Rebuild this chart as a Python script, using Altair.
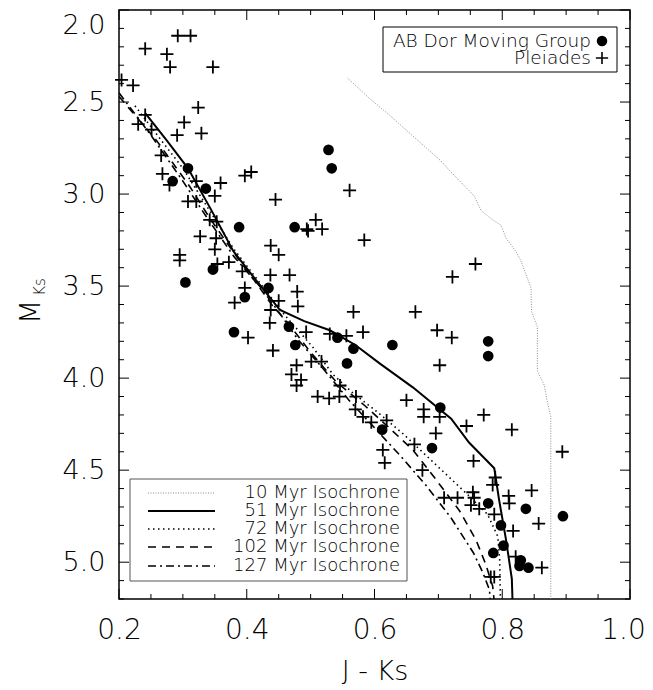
import altair as alt
import pandas as pd

# ---------------- data ----------------
abdor_x = [0.308, 0.284, 0.336, 0.528, 0.533, 0.388, 0.475, 0.304, 0.347, 0.434, 0.397, 0.380,
           0.466, 0.542, 0.567, 0.557, 0.476, 0.628, 0.778, 0.778, 0.703, 0.612, 0.690, 0.778,
           0.837, 0.895, 0.798, 0.802, 0.786, 0.829, 0.827, 0.841]
abdor_y = [2.86, 2.93, 2.97, 2.76, 2.86, 3.18, 3.18, 3.48, 3.41, 3.51, 3.56, 3.75,
           3.72, 3.78, 3.84, 3.92, 3.82, 3.82, 3.80, 3.88, 4.16, 4.28, 4.38, 4.68,
           4.71, 4.75, 4.80, 4.91, 4.95, 4.99, 5.02, 5.03]

plei_x = [0.292, 0.312, 0.241, 0.275, 0.280, 0.347, 0.204, 0.222, 0.324, 0.241, 0.302, 0.230,
          0.251, 0.291, 0.329, 0.266, 0.268, 0.279, 0.321, 0.359, 0.350, 0.308, 0.321, 0.397,
          0.407, 0.561, 0.445, 0.342, 0.353, 0.494, 0.508, 0.518, 0.327, 0.352, 0.350, 0.295,
          0.295, 0.354, 0.372, 0.393, 0.496, 0.584, 0.4375, 0.450, 0.437, 0.467, 0.397, 0.381,
          0.479, 0.480, 0.450, 0.4375, 0.436, 0.402, 0.493, 0.530, 0.556, 0.582, 0.567, 0.441,
          0.478, 0.501, 0.517, 0.470, 0.485, 0.478, 0.511, 0.529, 0.545, 0.546, 0.571, 0.570,
          0.582, 0.758, 0.722, 0.664, 0.698, 0.721, 0.702, 0.650, 0.677, 0.677, 0.702, 0.771,
          0.744, 0.815, 0.696, 0.619, 0.595, 0.6625, 0.613, 0.616, 0.894, 0.755, 0.675, 0.789,
          0.785, 0.846, 0.709, 0.730, 0.754, 0.756, 0.751, 0.764, 0.810, 0.811, 0.7875, 0.857,
          0.817, 0.821, 0.862, 0.782, 0.7875]
plei_y = [2.14, 2.14, 2.21, 2.24, 2.31, 2.31, 2.38, 2.41, 2.53, 2.57, 2.61, 2.62,
          2.65, 2.68, 2.67, 2.79, 2.89, 2.95, 2.93, 2.94, 3.01, 3.04, 3.04, 2.90,
          2.88, 2.98, 3.03, 3.14, 3.15, 3.19, 3.14, 3.19, 3.23, 3.24, 3.30, 3.33,
          3.36, 3.38, 3.37, 3.42, 3.20, 3.25, 3.28, 3.33, 3.44, 3.44, 3.51, 3.59,
          3.53, 3.61, 3.58, 3.63, 3.70, 3.78, 3.75, 3.76, 3.77, 3.75, 3.64, 3.85,
          3.93, 3.91, 3.91, 3.98, 4.01, 4.04, 4.10, 4.11, 4.10, 4.04, 4.10, 4.17,
          4.21, 3.38, 3.45, 3.64, 3.74, 3.78, 3.93, 4.12, 4.17, 4.21, 4.21, 4.20,
          4.26, 4.28, 4.30, 4.23, 4.24, 4.36, 4.39, 4.46, 4.40, 4.45, 4.50, 4.54,
          4.58, 4.61, 4.65, 4.65, 4.62, 4.65, 4.69, 4.71, 4.64, 4.68, 4.74, 4.79,
          4.83, 4.97, 5.03, 5.08, 5.08]

iso10_x = [0.558, 0.592, 0.623, 0.665, 0.704, 0.717, 0.756, 0.767, 0.785, 0.798, 0.806, 0.821,
           0.829, 0.845, 0.846, 0.855, 0.855, 0.866, 0.870, 0.876, 0.876]
iso10_y = [2.37, 2.48, 2.57, 2.70, 2.82, 2.87, 3.01, 3.09, 3.14, 3.17, 3.24, 3.31,
           3.36, 3.51, 3.64, 3.72, 3.96, 4.04, 4.12, 4.21, 5.20]

iso51_x = [0.241, 0.275, 0.308, 0.345, 0.379, 0.415, 0.452, 0.49, 0.53, 0.57, 0.608, 0.66,
           0.72, 0.748, 0.7875, 0.795, 0.806, 0.815, 0.816]
iso51_y = [2.56, 2.71, 2.86, 3.09, 3.31, 3.47, 3.63, 3.69, 3.74, 3.82, 3.92, 4.05,
           4.22, 4.35, 4.49, 4.66, 4.88, 5.09, 5.20]

iso72_x = [0.225, 0.26, 0.30, 0.34, 0.38, 0.42, 0.46, 0.503, 0.535, 0.566, 0.603, 0.644,
           0.696, 0.748, 0.777, 0.793, 0.796, 0.797]
iso72_y = [2.52, 2.68, 2.86, 3.08, 3.30, 3.48, 3.66, 3.83, 3.98, 4.08, 4.18, 4.30,
           4.47, 4.64, 4.74, 4.86, 4.99, 5.20]

iso102_x = [0.20, 0.259, 0.311, 0.342, 0.38, 0.41, 0.441, 0.462, 0.50, 0.54, 0.585, 0.623,
            0.66, 0.696, 0.733, 0.759, 0.774, 0.785, 0.787]
iso102_y = [2.47, 2.71, 2.96, 3.13, 3.32, 3.46, 3.61, 3.69, 3.86, 4.02, 4.15, 4.27,
            4.39, 4.55, 4.72, 4.88, 5.01, 5.13, 5.20]

iso127_x = [0.20, 0.25, 0.30, 0.34, 0.38, 0.42, 0.45, 0.48, 0.52, 0.56, 0.60, 0.64,
            0.68, 0.72, 0.755, 0.77, 0.78, 0.781]
iso127_y = [2.45, 2.68, 2.93, 3.14, 3.34, 3.50, 3.64, 3.79, 3.95, 4.12, 4.27, 4.42,
            4.58, 4.76, 4.95, 5.06, 5.15, 5.20]

iso_labels = ["10 Myr Isochrone", "51 Myr Isochrone", "72 Myr Isochrone",
              "102 Myr Isochrone", "127 Myr Isochrone"]
point_labels = ["AB Dor Moving Group", "Pleiades"]

x_major = [0.2, 0.4, 0.6, 0.8, 1.0]
x_minor = [0.25, 0.3, 0.35, 0.45, 0.5, 0.55, 0.65, 0.7, 0.75, 0.85, 0.9, 0.95]
y_major = [2.0, 2.5, 3.0, 3.5, 4.0, 4.5, 5.0]
y_minor = [2.1, 2.2, 2.3, 2.4, 2.6, 2.7, 2.8, 2.9, 3.1, 3.2, 3.3, 3.4, 3.6, 3.7, 3.8, 3.9,
           4.1, 4.2, 4.3, 4.4, 4.6, 4.7, 4.8, 4.9, 5.1, 5.2]

# ---------------- chart ----------------
W, H = 511, 589
FONT = "DejaVu Sans"
xs = alt.Scale(domain=[0.2, 1.0], nice=False, zero=False)
ys = alt.Scale(domain=[2.0, 5.2], reverse=True, nice=False, zero=False)
one = pd.DataFrame({"a": [0]})
CROSS = "M-1,0L1,0M0,-1L0,1"

AX_X = alt.Axis(values=x_major, format=".1f", ticks=False, domain=False, grid=False,
                labelFlush=False, labelFont=FONT, labelFontSize=28, labelFontWeight=300,
                labelColor="black", labelPadding=17,
                labelOffset={"condition": {"test": "datum.value >= 0.99", "value": -7}, "value": 0},
                title="J  -  Ks", titleFont=FONT,
                titleFontSize=27, titleFontWeight=300, titleColor="black", titlePadding=14)
AX_Y = alt.Axis(values=y_major, format=".1f", ticks=False, domain=False, grid=False,
                labelFlush=True, labelFlushOffset=-2, labelFont=FONT, labelFontSize=27,
                labelFontWeight=300, labelColor="black", labelPadding=14, title="")

def X(f):
    return alt.X(f, scale=xs, axis=AX_X, title="J  -  Ks")

def Y(f):
    return alt.Y(f, scale=ys, axis=AX_Y, title="")

layers = []

# isochrones
iso_styles = [
    (iso10_x, iso10_y, dict(color="#808080", strokeWidth=0.9, strokeDash=[1, 1.5])),
    (iso51_x, iso51_y, dict(color="black", strokeWidth=2)),
    (iso72_x, iso72_y, dict(color="black", strokeWidth=1.6, strokeDash=[1.5, 3.5])),
    (iso102_x, iso102_y, dict(color="black", strokeWidth=1.6, strokeDash=[8, 6])),
    (iso127_x, iso127_y, dict(color="black", strokeWidth=1.6, strokeDash=[8, 4, 2, 4])),
]
for ix, iy, st in iso_styles:
    df = pd.DataFrame({"x": ix, "y": iy, "i": range(len(ix))})
    layers.append(
        alt.Chart(df).mark_line(clip=True, **st).encode(
            x=X("x:Q"), y=Y("y:Q"), order="i:Q",
        )
    )

# points
pdf = pd.DataFrame({"x": plei_x, "y": plei_y})
layers.append(
    alt.Chart(pdf).mark_point(shape=CROSS, size=170, color="black", strokeWidth=1.8,
                              filled=False, opacity=1).encode(x=X("x:Q"), y=Y("y:Q"))
)
adf = pd.DataFrame({"x": abdor_x, "y": abdor_y})
layers.append(
    alt.Chart(adf).mark_point(shape="circle", size=115, color="black", filled=True,
                              opacity=1).encode(x=X("x:Q"), y=Y("y:Q"))
)

# ticks on all four sides (inward)
def xticks(vals, a, b):
    return alt.Chart(pd.DataFrame({"x": vals})).mark_rule(color="black", strokeWidth=1).encode(
        x=X("x:Q"), y=alt.value(a), y2=alt.value(b))

def yticks(vals, a, b):
    return alt.Chart(pd.DataFrame({"y": vals})).mark_rule(color="black", strokeWidth=1).encode(
        y=Y("y:Q"), x=alt.value(a), x2=alt.value(b))

layers += [
    xticks(x_major, H, H - 10), xticks(x_minor, H, H - 5),
    xticks(x_major, 0, 10), xticks(x_minor, 0, 5),
    yticks(y_major, 0, 10), yticks(y_minor, 0, 5),
    yticks(y_major, W, W - 10), yticks(y_minor, W, W - 5),
]

# y-axis title M_Ks
layers.append(alt.Chart(one).mark_text(font=FONT, fontSize=28, fontWeight=300, angle=270,
                                       align="center", baseline="middle", color="black").encode(
    x=alt.value(-87), y=alt.value(302), text=alt.value("M")))
layers.append(alt.Chart(one).mark_text(font=FONT, fontSize=15, fontWeight=300, angle=270,
                                       align="center", baseline="middle", color="black").encode(
    x=alt.value(-79), y=alt.value(277), text=alt.value("Ks")))

# top-right legend
layers.append(alt.Chart(one).mark_rect(fill="white", stroke="black", strokeWidth=1).encode(
    x=alt.value(264), x2=alt.value(498), y=alt.value(17), y2=alt.value(62)))
for lab, yy in zip(point_labels, [31, 48]):
    layers.append(alt.Chart(one).mark_text(font=FONT, fontSize=18.5, fontWeight=300,
                                           align="right", baseline="middle",
                                           color="black").encode(
        x=alt.value(472), y=alt.value(yy), text=alt.value(lab)))
layers.append(alt.Chart(one).mark_point(shape="circle", size=110, filled=True, color="black",
                                        opacity=1).encode(x=alt.value(483), y=alt.value(31)))
layers.append(alt.Chart(one).mark_point(shape=CROSS, size=150, filled=False, color="black",
                                        strokeWidth=1.6, opacity=1).encode(
    x=alt.value(483), y=alt.value(48)))

# bottom-left legend
layers.append(alt.Chart(one).mark_rect(fill="white", stroke="#555555", strokeWidth=1).encode(
    x=alt.value(11), x2=alt.value(288), y=alt.value(469), y2=alt.value(571)))
rows = [483, 501, 519, 537, 556]
for (ix, iy, st), lab, yy in zip(iso_styles, iso_labels, rows):
    layers.append(alt.Chart(one).mark_rule(**st).encode(
        x=alt.value(29), x2=alt.value(96), y=alt.value(yy)))
    layers.append(alt.Chart(one).mark_text(font=FONT, fontSize=18, fontWeight=300,
                                           align="right", baseline="middle",
                                           color="black").encode(
        x=alt.value(281), y=alt.value(yy), text=alt.value(lab)))

chart = alt.layer(*layers).properties(
    width=W, height=H,
    autosize=alt.AutoSizeParams(type="none"),
    padding={"left": 111, "top": 2, "right": 15, "bottom": 85},
).configure_view(stroke="black", strokeWidth=1.5)

chart.save("out.html", embed_options={"renderer": "svg", "actions": False})
